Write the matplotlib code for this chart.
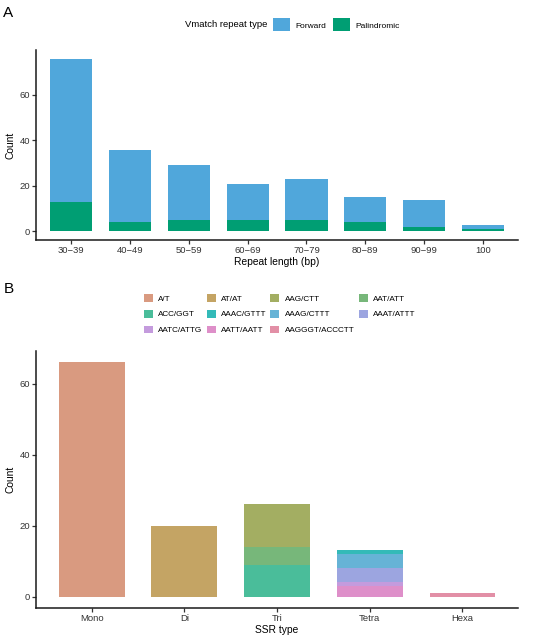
import matplotlib.pyplot as plt
from matplotlib.patches import Patch

plt.rcParams['font.family'] = ['Liberation Sans', 'DejaVu Sans']

# Panel A: Vmatch repeats
length_bins = ["30\u221239", "40\u221249", "50\u221259", "60\u221269", "70\u221279",
               "80\u221289", "90\u221299", "100"]
forward = [63, 32, 24, 16, 18, 11, 12, 2]
palindromic = [13, 4, 5, 5, 5, 4, 2, 1]
repeat_colors = {"Forward": "#50A7DB", "Palindromic": "#009E73"}

# Panel B: SSR types
ssr_types = ["Mono", "Di", "Tri", "Tetra", "Hexa"]
motifs = ["A/T", "AT/AT", "AAG/CTT", "AAT/ATT", "ACC/GGT", "AAAC/GTTT",
          "AAAG/CTTT", "AAAT/ATTT", "AATC/ATTG", "AATT/AATT", "AAGGGT/ACCCTT"]
motif_type = ["Mono", "Di", "Tri", "Tri", "Tri", "Tetra",
              "Tetra", "Tetra", "Tetra", "Tetra", "Hexa"]
motif_count = [66, 20, 12, 5, 9, 1, 4, 4, 1, 3, 1]
motif_colors = ["#D99A80", "#C4A464", "#A3AE62", "#77B77A", "#4ABD9A", "#33BAB8",
                "#66B3D6", "#9CA5E0", "#C49BDD", "#DE8FC9", "#E28FA6"]

AX_COL = "#1A1A1A"
TICK_COL = "#333333"


def style_axes(ax):
    for s in ["top", "right"]:
        ax.spines[s].set_visible(False)
    for s in ["left", "bottom"]:
        ax.spines[s].set_linewidth(1.1)
        ax.spines[s].set_color(AX_COL)
    ax.tick_params(axis="both", length=3, width=0.9, color=TICK_COL,
                   labelsize=6.8, labelcolor=TICK_COL, pad=1.2)


fig = plt.figure(figsize=(5.5, 6.39), dpi=100)

# ---- Panel A ----
axA = fig.add_axes([0.0655, 0.6244, 0.8765, 0.2974])
xa = list(range(len(length_bins)))
axA.bar(xa, palindromic, width=0.72, color=repeat_colors["Palindromic"])
axA.bar(xa, forward, width=0.72, bottom=palindromic, color=repeat_colors["Forward"])
totals = [f + p for f, p in zip(forward, palindromic)]
ymax = max(totals)
axA.set_ylim(-0.05 * ymax, 1.05 * ymax)
axA.set_xlim(-0.6, len(length_bins) - 0.4)
axA.set_xticks(xa)
axA.set_xticklabels(length_bins)
axA.set_yticks([0, 20, 40, 60])
axA.set_xlabel("Repeat length (bp)", fontsize=7.4, labelpad=1.5)
axA.set_ylabel("Count", fontsize=7.4, labelpad=3)
style_axes(axA)

fig.text(0.006, 0.980, "A", fontsize=11, va="center", ha="left")
fig.text(0.336, 0.961, "Vmatch repeat type", fontsize=6.8, va="center", ha="left")
handlesA = [Patch(facecolor=repeat_colors[k], label=k) for k in ["Forward", "Palindromic"]]
fig.legend(handles=handlesA, ncol=2, loc="center left", bbox_to_anchor=(0.4964, 0.961),
           frameon=False, fontsize=6, handlelength=2.04, handleheight=2.04,
           handletextpad=0.68, columnspacing=0.76, borderpad=0, borderaxespad=0)

# ---- Panel B ----
axB = fig.add_axes([0.0655, 0.048, 0.8765, 0.4032])
xb = list(range(len(ssr_types)))
bottoms = [0.0] * len(ssr_types)
# ggplot stacks the first level on top, so draw from the last motif up
for m, t, c, col in reversed(list(zip(motifs, motif_type, motif_count, motif_colors))):
    i = ssr_types.index(t)
    axB.bar(i, c, width=0.71, bottom=bottoms[i], color=col)
    bottoms[i] += c
ymaxB = max(bottoms)
axB.set_ylim(-0.05 * ymaxB, 1.05 * ymaxB)
axB.set_xlim(-0.6, len(ssr_types) - 0.4)
axB.set_xticks(xb)
axB.set_xticklabels(ssr_types)
axB.set_yticks([0, 20, 40, 60])
axB.set_xlabel("SSR type", fontsize=7.4, labelpad=1.5)
axB.set_ylabel("Count", fontsize=7.4, labelpad=3)
style_axes(axB)

fig.text(0.006, 0.5477, "B", fontsize=11, va="center", ha="left")

# reorder row-major legend into matplotlib's column-major filling
ncol = 4
order = []
for c in range(ncol):
    order += list(range(c, len(motifs), ncol))
handlesB = [Patch(facecolor=motif_colors[i], label=motifs[i]) for i in order]
fig.legend(handles=handlesB, ncol=ncol, loc="center left", bbox_to_anchor=(0.2618, 0.5085),
           frameon=False, fontsize=5.9, handlelength=1.1, handleheight=1.12,
           handletextpad=0.62, columnspacing=0.52, labelspacing=0.86,
           borderpad=0, borderaxespad=0)

fig.savefig("out.png", dpi=100)
